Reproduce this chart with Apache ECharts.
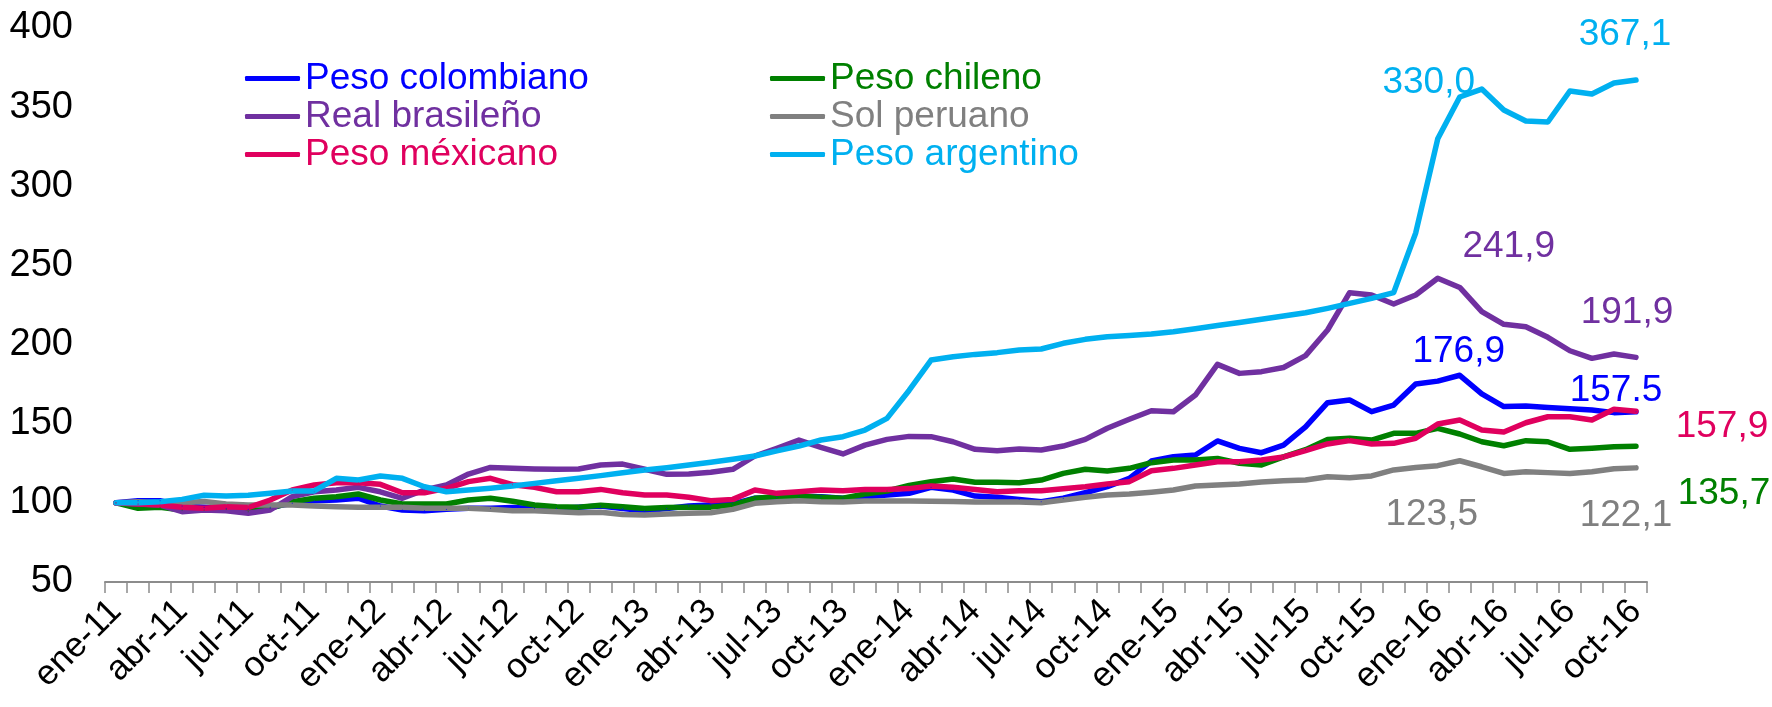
<!DOCTYPE html>
<html>
<head>
<meta charset="utf-8">
<script src="https://cdn.jsdelivr.net/npm/echarts@6/dist/echarts.min.js"></script>
<style>html,body{margin:0;padding:0;background:#fff}#c{width:1772px;height:707px}</style>
</head>
<body>
<div id="c"></div>
<script>
const categories = [
 'ene-11','feb-11','mar-11','abr-11','may-11','jun-11','jul-11','ago-11','sep-11','oct-11','nov-11','dic-11',
 'ene-12','feb-12','mar-12','abr-12','may-12','jun-12','jul-12','ago-12','sep-12','oct-12','nov-12','dic-12',
 'ene-13','feb-13','mar-13','abr-13','may-13','jun-13','jul-13','ago-13','sep-13','oct-13','nov-13','dic-13',
 'ene-14','feb-14','mar-14','abr-14','may-14','jun-14','jul-14','ago-14','sep-14','oct-14','nov-14','dic-14',
 'ene-15','feb-15','mar-15','abr-15','may-15','jun-15','jul-15','ago-15','sep-15','oct-15','nov-15','dic-15',
 'ene-16','feb-16','mar-16','abr-16','may-16','jun-16','jul-16','ago-16','sep-16','oct-16'
];
const yTicks = [50, 100, 150, 200, 250, 300, 350, 400];

const pesoColombiano = [100,101.4,101.4,98,97.2,96.6,96,97.2,99.7,101.4,101.8,102.9,98,95.5,95,96,96.6,96.6,97,
 96.5,96.5,97.3,98,96.5,95,96.5,98,98.6,99.3,102.9,103.5,104.2,103.9,102.9,103.9,105,106,
 109.8,108.1,104.3,103.5,102.2,100.7,102.9,106.4,110.2,115.5,126.4,129.2,130.2,139.1,134.4,131.7,136.5,148,
 163.3,165,157.6,161.8,175.1,176.9,180.6,168.8,160.8,161.2,160.3,159.5,158.7,157,157.5];
const pesoChileno = [100,96.6,97.2,95.5,95.5,96,94.4,96.6,100.7,102.9,103.9,105.6,101.8,99.3,99.3,99.3,101.8,102.9,101,
 98.6,97.6,97.3,98.5,97.6,96.5,97,97.3,97.3,98.6,102.9,103.9,104.2,103.5,102.9,105.6,107.5,111,
 113.4,115.1,113,113,112.7,114.4,118.6,121.2,120.1,121.8,125.4,127.1,127.1,128.1,125,123.9,129,133.6,
 140.1,140.8,139.7,143.9,143.9,147.1,143.5,138.6,136.1,139.3,138.6,133.8,134.5,135.5,135.7];
const realBrasileno = [100,99.3,98.6,94.4,95.5,95,93.4,95.5,103.9,107,108.1,109.8,107,102.9,108.1,111.3,118.2,122.4,121.8,
 121.4,121.2,121.4,123.9,124.5,121.2,118,118.2,119.3,121.2,129.6,134.5,139.7,135.1,130.9,136.5,140.1,142,
 141.8,138.6,133.8,132.9,134,133.4,135.9,140.1,147.1,152.8,158.2,157.6,168.1,187.5,181.8,182.9,185.5,193,
 209.2,232.8,231.3,225.6,231.3,241.9,236.1,220.8,212.8,211.3,204.6,196.1,191.3,194,191.9];
const solPeruano = [100,100.7,100,100,100.9,99.3,98.6,98.6,98.6,98,97.6,97.2,97.2,97.2,96.6,96.6,96.6,96,95,
 95,94.4,93.8,94,92.7,92.4,93,93.4,93.8,95.9,99.7,100.7,101.4,100.7,100.5,101.1,101.1,101.2,
 101,100.9,100.5,100.5,100.5,100.1,101.8,103.5,105,105.6,106.7,108.1,110.6,111.3,111.9,113.2,113.9,114.4,
 116.5,115.9,117,120.8,122.4,123.5,126.6,122.8,118.6,119.7,119.1,118.6,119.7,121.6,122.1];
const pesoMexicano = [100,99.3,98.6,97.2,96.6,97.6,97,101.8,108.1,111.3,112.7,112.7,111.7,106.4,106.4,109.2,113.4,115.5,111.5,
 109.8,107,107,108.5,106.4,105,105,103.5,101.4,102.2,108.1,106,107,108.1,107.7,108.5,108.5,109,
 110.6,109.8,108.5,107,107.7,107.7,108.9,110.2,111.9,113.4,120.3,121.8,123.9,126,126,127.1,129,133,
 137.2,139.3,137.2,137.6,140.8,149.8,152.3,146,144.8,150.6,154.4,154.4,152.3,159.1,157.9];
const pesoArgentino = [100,100,100.7,102.2,104.8,104.4,104.8,106,107.5,107.5,115.5,114.4,117,115.5,110.2,107,108.1,109.2,110.6,
 112.3,114,115.5,117.2,119,120.8,122.2,123.9,125.6,127.5,129.6,132.8,135.9,139.7,141.8,146,153.4,171,
 190.2,192.3,193.8,194.9,196.6,197.2,200.8,203.3,205,205.8,206.7,208.1,210,212,214,216,218,220.1,
 222.9,226,229.2,232.8,270.5,330.0,356.4,361.4,348.2,341.2,340.6,360.2,358.3,365.2,367.1];

// label text shown on the chart (as printed in the original)
const labelTexts = {
  'Peso colombiano': {60: '176,9', 69: '157.5'},
  'Real brasileño': {60: '241,9', 69: '191,9'},
  'Peso méxicano': {69: '157,9'},
  'Peso chileno': {69: '135,7'},
  'Sol peruano': {60: '123,5', 69: '122,1'},
  'Peso argentino': {60: '330,0', 69: '367,1'}
};
const labelOffsets = {
  'Peso colombiano': {60: [21, -29], 69: [-20, -21]},
  'Real brasileño': {60: [71, -31], 69: [-9, -45]},
  'Peso méxicano': {69: [86, 16]},
  'Peso chileno': {69: [88, 47]},
  'Sol peruano': {60: [-6, 49], 69: [-10, 48]},
  'Peso argentino': {60: [-9, -56], 69: [-11, -45]}
};

const FONT = "'Liberation Sans', Arial, sans-serif";
const seriesDefs = [
  {name: 'Peso colombiano', data: pesoColombiano, color: '#0000FF'},
  {name: 'Peso chileno', data: pesoChileno, color: '#008000'},
  {name: 'Real brasileño', data: realBrasileno, color: '#7030A0'},
  {name: 'Sol peruano', data: solPeruano, color: '#808080'},
  {name: 'Peso méxicano', data: pesoMexicano, color: '#E0005E'},
  {name: 'Peso argentino', data: pesoArgentino, color: '#00B0F0'}
];

function buildData(def) {
  const lt = labelTexts[def.name] || {};
  const lo = labelOffsets[def.name] || {};
  return def.data.map((v, i) => {
    if (lt[i] === undefined) return v;
    return {
      value: v,
      label: {
        show: true, position: 'inside', offset: lo[i],
        formatter: lt[i], color: def.color, fontSize: 37, fontFamily: FONT,
        align: 'center', verticalAlign: 'middle'
      }
    };
  });
}

const series = seriesDefs.map(d => ({
  name: d.name, type: 'line', data: buildData(d),
  showSymbol: true, symbol: 'circle', symbolSize: 1,
  itemStyle: {color: d.color},
  lineStyle: {color: d.color, width: 5.5, join: 'round', cap: 'round'},
  emphasis: {disabled: true},
  animation: false
}));

function legendData(names) {
  return names.map(n => {
    const d = seriesDefs.find(s => s.name === n);
    return {name: n, textStyle: {color: d.color}};
  });
}

const chart = echarts.init(document.getElementById('c'), null, {renderer: 'canvas'});
chart.setOption({
  animation: false,
  backgroundColor: '#fff',
  textStyle: {fontFamily: FONT},
  grid: {left: 105, right: 125, top: 28, bottom: 125, containLabel: false},
  legend: [
    {orient: 'vertical', left: 240, top: 55, itemWidth: 55, itemHeight: 5, itemGap: 1, icon: 'roundRect',
     textStyle: {fontSize: 37, fontFamily: FONT, lineHeight: 36},
     data: legendData(['Peso colombiano', 'Real brasileño', 'Peso méxicano']), selectedMode: false},
    {orient: 'vertical', left: 765, top: 55, itemWidth: 55, itemHeight: 5, itemGap: 1, icon: 'roundRect',
     textStyle: {fontSize: 37, fontFamily: FONT, lineHeight: 36},
     data: legendData(['Peso chileno', 'Sol peruano', 'Peso argentino']), selectedMode: false}
  ],
  xAxis: {
    type: 'category', data: categories, boundaryGap: true,
    axisLine: {show: true, lineStyle: {color: '#8c8c8c', width: 2}},
    axisTick: {show: true, interval: 0, length: 11, lineStyle: {color: '#8c8c8c', width: 1.5}},
    axisLabel: {interval: 2, rotate: 45, fontSize: 35, color: '#000', margin: 24, fontFamily: FONT}
  },
  yAxis: {
    type: 'value', min: yTicks[0], max: yTicks[yTicks.length - 1], interval: 50,
    axisLine: {show: false}, axisTick: {show: false}, splitLine: {show: false},
    axisLabel: {fontSize: 38, color: '#000', margin: 32, fontFamily: FONT}
  },
  series: series
});
</script>
</body>
</html>
